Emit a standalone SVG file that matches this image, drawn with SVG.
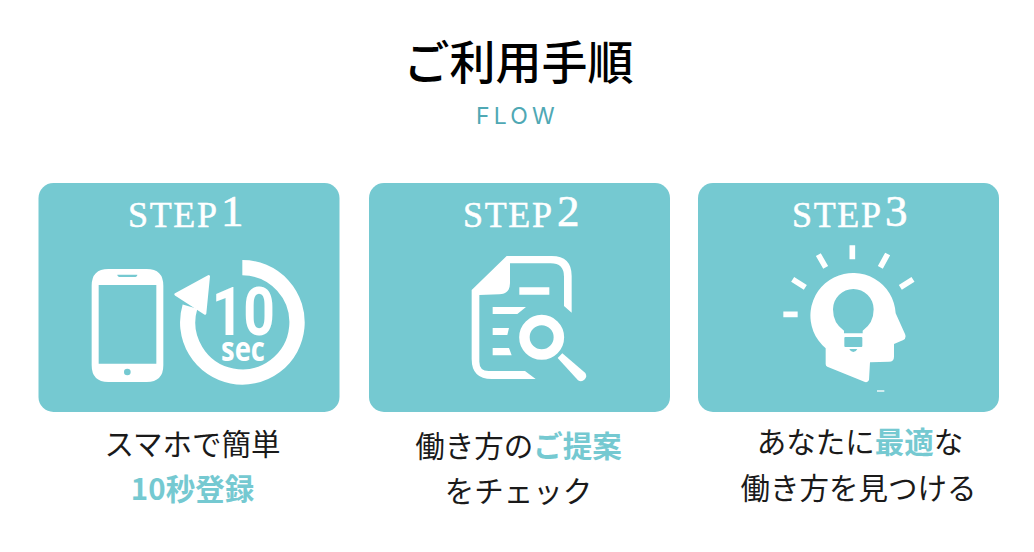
<svg xmlns="http://www.w3.org/2000/svg" width="1034" height="552" viewBox="0 0 1034 552">
<style>
.card{fill:#75c9d1}
.w{fill:#fff}
.t{fill:#75c9d1}
.jp{font-family:"Noto Sans CJK JP","Noto Sans",sans-serif;font-size:29.5px;fill:#1a1a1a;text-anchor:middle;font-weight:400}
.hi{fill:#75c9d1;font-weight:700}
.st{font-family:"Liberation Serif",serif;fill:#fff;font-size:36px;stroke:#fff;stroke-width:.5}
.dg{font-family:"Liberation Serif",serif;fill:#fff;font-size:45px;stroke:#fff;stroke-width:.6}
.ray{stroke:#fff;stroke-width:17;fill:none}
</style>
<rect width="1034" height="552" fill="#fff"/>
<g id="title">
<text x="518.5" y="79" text-anchor="middle" style="font-family:'Noto Sans CJK JP',sans-serif;font-size:46px;font-weight:500;fill:#000">ご利用手順</text>
<text x="476" y="124" style="font-family:Inter,sans-serif;font-size:23px;letter-spacing:4.2px;fill:#4fa8b4">FLOW</text>
</g>
<g id="step1">
<rect class="card" x="38.5" y="183" width="301" height="229" rx="15"/>
<text class="st" x="128" y="227" textLength="89">STEP</text>
<text class="dg" x="221" y="226">1</text>
<g transform="translate(30 180) scale(.33333)">
<path class="w" fill-rule="evenodd" d="M235 267H350Q400 267 400 317V556Q400 606 350 606H235Q185 606 185 556V317Q185 267 235 267ZM206 315V551H379V315ZM262 284H322Q322 291 312 291H272Q262 291 262 284Z"/>
<circle class="t" cx="292" cy="576" r="10"/>
<path d="M637 263A164 164 0 1 1 480 380" fill="none" stroke="#fff" stroke-width="46"/>
<path class="w" stroke="#fff" stroke-width="8" stroke-linejoin="round" d="M437 343L536 289L525 400Z"/>
<text x="545" y="465" textLength="190" lengthAdjust="spacingAndGlyphs" style="font-family:Roboto,sans-serif;font-weight:700;font-size:198px;fill:#fff">10</text>
<text x="573" y="542" textLength="132" lengthAdjust="spacingAndGlyphs" style="font-family:'Open Sans',sans-serif;font-weight:700;font-size:100px;fill:#fff">sec</text>
</g>
<text class="jp" x="192.5" y="455">スマホで簡単</text>
<text class="jp hi" x="192.5" y="500">10秒登録</text>
</g>
<g id="step2">
<rect class="card" x="369" y="183" width="301" height="229" rx="15"/>
<text class="st" x="463" y="227" textLength="89">STEP</text>
<text class="dg" x="557" y="226">2</text>
<g transform="translate(360 180) scale(.33333)">
<path class="w" d="M335 330L440 228H575Q635 228 635 288V398L612 378V290Q612 250 572 250H450V310Q450 342 418 343L358 345V545Q358 573 386 573H495L527 597H395Q335 597 335 537Z"/>
<path class="w" d="M478 322H568V344H478ZM398 381H498L472 402H398ZM398 444H447L442 465H398ZM398 504H447L455 526H398Z"/>
<circle cx="545" cy="472" r="51.7" fill="none" stroke="#fff" stroke-width="31.5"/>
<path class="w" d="M607 520L676 579A16 16 0 0 1 654 601L593 534Z"/>
</g>
<text class="jp" x="518.5" y="457">働き方の<tspan class="hi">ご提案</tspan></text>
<text class="jp" x="518.5" y="502">をチェック</text>
</g>
<g id="step3">
<rect class="card" x="698" y="183" width="301" height="229" rx="15"/>
<text class="st" x="792" y="227" textLength="89">STEP</text>
<text class="dg" x="885" y="226">3</text>
<g transform="translate(690 180) scale(.33333)">
<path class="ray" d="M487 196V238M385 224L407 262M593 222L571 262M308 298L346 322M669 298L631 322M280 403H323"/>
<path class="w" d="M407 505A128 128 0 1 1 617 400L645 462Q650 474 640 480L612 492V530Q612 545 597 545L540 547L537 600Q534 608 525 606L412 560Q407 558 407 552Z"/>
<path class="t" d="M462 460V452Q429 430 429 388A61 61 0 0 1 551 388Q551 430 518 452V460Z"/>
<rect class="t" x="463" y="471" width="54" height="30" rx="3"/>
<path class="t" d="M478 507H502Q498 516 490 516Q482 516 478 507Z"/>
<rect class="w" x="561" y="631" width="22" height="4"/>
</g>
<text class="jp" x="860" y="453">あなたに<tspan class="hi">最適</tspan>な</text>
<text class="jp" x="858.5" y="499">働き方を見つける</text>
</g>
</svg>
